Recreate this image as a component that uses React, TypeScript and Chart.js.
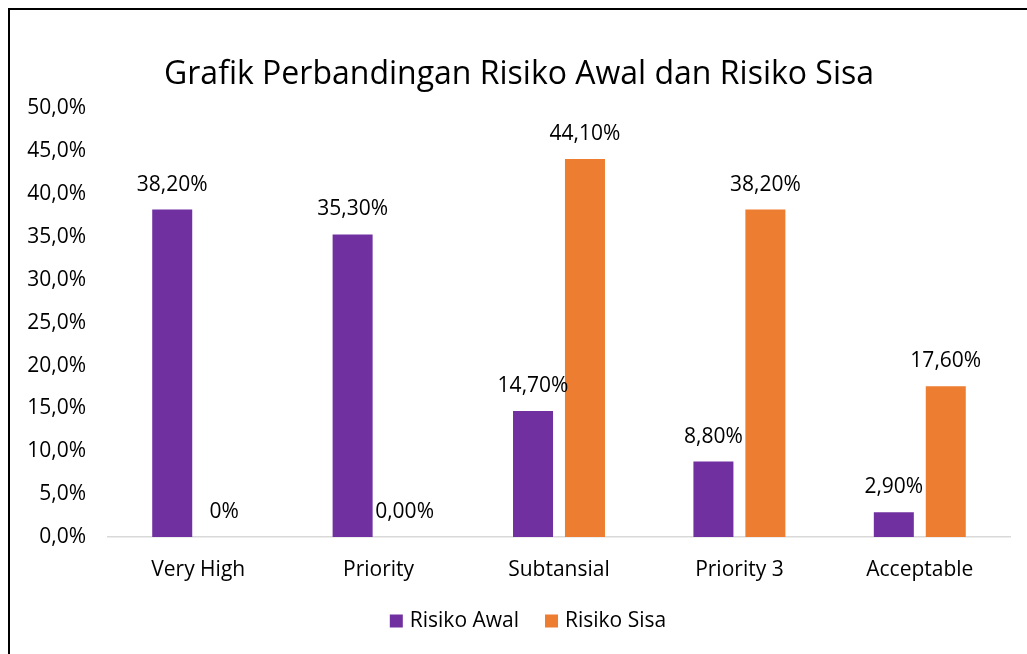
import { useEffect, useRef } from "react";
import { Chart, registerables } from "chart.js";

Chart.register(...registerables);

const categories = ["Very High", "Priority", "Subtansial", "Priority 3", "Acceptable"];
const risikoAwal = [38.2, 35.3, 14.7, 8.8, 2.9];
const risikoSisa = [0, 0, 44.1, 38.2, 17.6];
const awalLabels = ["38,20%", "35,30%", "14,70%", "8,80%", "2,90%"];
const sisaLabels = ["0%", "0,00%", "44,10%", "38,20%", "17,60%"];
const seriesNames = ["Risiko Awal", "Risiko Sisa"];
const titleText = "Grafik Perbandingan Risiko Awal dan Risiko Sisa";
const yMin = 0;
const yMax = 50;
const yStep = 5;

const FONT = "'Open Sans', sans-serif";
const PURPLE = "#7030A0";
const ORANGE = "#ED7D31";

const valueLabelPlugin = {
  id: "valueLabels",
  afterDatasetsDraw(chart: any) {
    const ctx = chart.ctx;
    const labelSets = [awalLabels, sisaLabels];
    ctx.save();
    ctx.font = `21px ${FONT}`;
    ctx.fillStyle = "#000";
    ctx.textAlign = "center";
    ctx.textBaseline = "middle";
    chart.data.datasets.forEach((_ds: any, di: number) => {
      const meta = chart.getDatasetMeta(di);
      meta.data.forEach((el: any, i: number) => {
        ctx.fillText(labelSets[di][i], el.x, el.y - 25);
      });
    });
    ctx.restore();
  },
};

const titleLegendPlugin = {
  id: "titleLegend",
  afterDraw(chart: any) {
    const ctx = chart.ctx;
    ctx.save();
    // title
    ctx.font = `32px ${FONT}`;
    ctx.fillStyle = "#000";
    ctx.textAlign = "center";
    ctx.textBaseline = "middle";
    ctx.fillText(titleText, 519, 75);
    // legend
    ctx.font = `21px ${FONT}`;
    ctx.textAlign = "left";
    const box = 13;
    const gap = 7;
    const itemGap = 26;
    const widths = chart.data.datasets.map((ds: any) => ctx.measureText(ds.label).width);
    const total =
      widths.reduce((a: number, w: number) => a + box + gap + w, 0) + itemGap * (widths.length - 1);
    let x = 528 - total / 2;
    const cy = 621;
    chart.data.datasets.forEach((ds: any, i: number) => {
      ctx.fillStyle = ds.backgroundColor;
      ctx.fillRect(x, cy - box / 2, box, box);
      ctx.fillStyle = "#000";
      ctx.fillText(ds.label, x + box + gap, cy);
      x += box + gap + widths[i] + itemGap;
    });
    ctx.restore();
  },
};

export default function App() {
  const ref = useRef<HTMLCanvasElement | null>(null);

  useEffect(() => {
    if (!ref.current) return;
    const chart = new Chart(ref.current, {
      type: "bar",
      data: {
        labels: categories,
        datasets: [
          {
            label: seriesNames[0],
            data: risikoAwal,
            backgroundColor: PURPLE,
            categoryPercentage: 0.576,
            barPercentage: 0.77,
          },
          {
            label: seriesNames[1],
            data: risikoSisa,
            backgroundColor: ORANGE,
            categoryPercentage: 0.576,
            barPercentage: 0.77,
          },
        ],
      },
      options: {
        animation: false,
        responsive: true,
        maintainAspectRatio: false,
        layout: { padding: { left: 0, right: 17, top: 0, bottom: 67 } },
        plugins: {
          tooltip: { enabled: false },
          legend: { display: false },
          title: {
            display: true,
            text: titleText,
            color: "rgba(0,0,0,0)",
            font: { family: FONT, size: 32, weight: "normal" },
            padding: { top: 56, bottom: 14 },
          },
        },
        scales: {
          x: {
            grid: { display: false, drawTicks: false },
            border: { display: true, color: "#d9d9d9", width: 1.5 },
            ticks: { color: "#000", font: { family: FONT, size: 21 }, padding: 20 },
            afterFit: (scale: any) => {
              scale.height = 50;
            },
          },
          y: {
            min: yMin,
            max: yMax,
            grid: { display: false, drawTicks: false },
            border: { display: false },
            ticks: {
              stepSize: yStep,
              color: "#000",
              font: { family: FONT, size: 21 },
              padding: 22,
              callback: (v: any) => Number(v).toFixed(1).replace(".", ",") + "%",
            },
            afterFit: (scale: any) => {
              scale.width = 108;
            },
          },
        },
      },
      plugins: [valueLabelPlugin, titleLegendPlugin],
    });
    return () => chart.destroy();
  }, []);

  return (
    <div
      style={{
        position: "fixed",
        left: 0,
        top: 0,
        width: 1027,
        height: 654,
        overflow: "hidden",
        background: "#fff",
      }}
    >
      <div
        style={{
          position: "absolute",
          left: 8,
          top: 8,
          width: 1040,
          height: 680,
          border: "2px solid #000",
          boxSizing: "border-box",
        }}
      />
      <div style={{ position: "absolute", left: 0, top: 0, width: 1027, height: 654 }}>
        <canvas ref={ref} />
      </div>
    </div>
  );
}
